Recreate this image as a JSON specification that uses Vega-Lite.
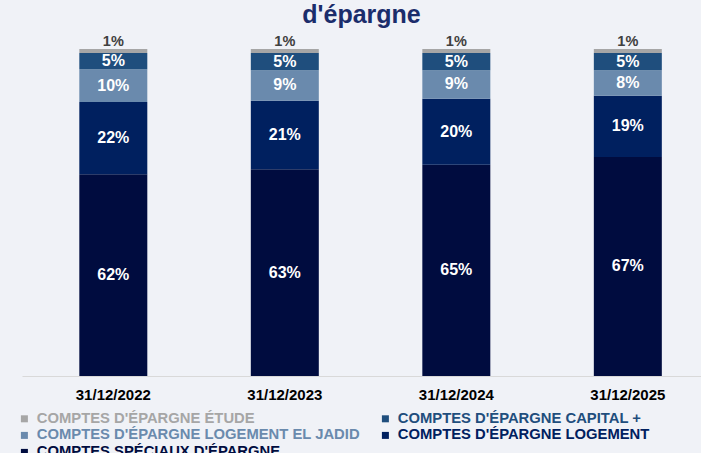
{
  "$schema": "https://vega.github.io/schema/vega-lite/v6.json",
  "width": 679,
  "height": 327,
  "autosize": {"type": "none"},
  "padding": {"left": 22, "top": 49, "right": 0, "bottom": 77},
  "background": "#f0f2f7",
  "title": {"text": "d'épargne", "fontSize": 25, "font": "Liberation Sans", "fontWeight": "bold", "color": "#1b2d6b", "anchor": "middle", "offset": 6},
  "config": {"view": {"stroke": null}, "font": "Liberation Sans"},
  "data": {"values": [
    {"date": "31/12/2022", "series": "COMPTES SPÉCIAUX D'ÉPARGNE", "order": 1, "value": 0.617},
    {"date": "31/12/2022", "series": "COMPTES D'ÉPARGNE LOGEMENT", "order": 2, "value": 0.221},
    {"date": "31/12/2022", "series": "COMPTES D'ÉPARGNE LOGEMENT EL JADID", "order": 3, "value": 0.100},
    {"date": "31/12/2022", "series": "COMPTES D'ÉPARGNE CAPITAL +", "order": 4, "value": 0.050},
    {"date": "31/12/2022", "series": "COMPTES D'ÉPARGNE ÉTUDE", "order": 5, "value": 0.012},
    {"date": "31/12/2023", "series": "COMPTES SPÉCIAUX D'ÉPARGNE", "order": 1, "value": 0.632},
    {"date": "31/12/2023", "series": "COMPTES D'ÉPARGNE LOGEMENT", "order": 2, "value": 0.210},
    {"date": "31/12/2023", "series": "COMPTES D'ÉPARGNE LOGEMENT EL JADID", "order": 3, "value": 0.093},
    {"date": "31/12/2023", "series": "COMPTES D'ÉPARGNE CAPITAL +", "order": 4, "value": 0.053},
    {"date": "31/12/2023", "series": "COMPTES D'ÉPARGNE ÉTUDE", "order": 5, "value": 0.012},
    {"date": "31/12/2024", "series": "COMPTES SPÉCIAUX D'ÉPARGNE", "order": 1, "value": 0.646},
    {"date": "31/12/2024", "series": "COMPTES D'ÉPARGNE LOGEMENT", "order": 2, "value": 0.202},
    {"date": "31/12/2024", "series": "COMPTES D'ÉPARGNE LOGEMENT EL JADID", "order": 3, "value": 0.087},
    {"date": "31/12/2024", "series": "COMPTES D'ÉPARGNE CAPITAL +", "order": 4, "value": 0.053},
    {"date": "31/12/2024", "series": "COMPTES D'ÉPARGNE ÉTUDE", "order": 5, "value": 0.012},
    {"date": "31/12/2025", "series": "COMPTES SPÉCIAUX D'ÉPARGNE", "order": 1, "value": 0.670},
    {"date": "31/12/2025", "series": "COMPTES D'ÉPARGNE LOGEMENT", "order": 2, "value": 0.187},
    {"date": "31/12/2025", "series": "COMPTES D'ÉPARGNE LOGEMENT EL JADID", "order": 3, "value": 0.078},
    {"date": "31/12/2025", "series": "COMPTES D'ÉPARGNE CAPITAL +", "order": 4, "value": 0.053},
    {"date": "31/12/2025", "series": "COMPTES D'ÉPARGNE ÉTUDE", "order": 5, "value": 0.012}
  ]},
  "encoding": {
    "x": {
      "field": "date", "type": "nominal", "sort": null,
      "scale": {"paddingInner": 0.6036, "paddingOuter": 0.2813, "align": 0.594},
      "axis": {"title": null, "labelAngle": 0, "labelFontSize": 15, "labelFontWeight": "bold", "labelColor": "#000000", "labelPadding": 11, "ticks": false, "domainColor": "#d9d9d9", "domainWidth": 1, "grid": false, "labelFont": "Liberation Sans"}
    }
  },
  "layer": [
    {
      "mark": {"type": "bar"},
      "encoding": {
        "y": {"field": "value", "type": "quantitative", "stack": "zero", "scale": {"domain": [0, 1], "nice": false, "zero": true}, "axis": null},
        "order": {"field": "order", "type": "quantitative"},
        "color": {
          "field": "series", "type": "nominal",
          "scale": {
            "domain": ["COMPTES D'ÉPARGNE ÉTUDE", "COMPTES D'ÉPARGNE CAPITAL +", "COMPTES D'ÉPARGNE LOGEMENT EL JADID", "COMPTES D'ÉPARGNE LOGEMENT", "COMPTES SPÉCIAUX D'ÉPARGNE"],
            "range": ["#a6a6a6", "#1f4e7d", "#6a8aad", "#00205f", "#000c3f"]
          },
          "legend": {
            "title": null, "orient": "none", "legendX": -5, "legendY": 362, "columns": 2, "direction": "horizontal",
            "symbolType": "square", "symbolSize": 49, "symbolStrokeWidth": 0,
            "labelFont": "Liberation Sans", "labelFontSize": 14.8, "labelFontWeight": "bold", "labelLimit": 0,
            "labelOffset": 5, "columnPadding": 18, "rowPadding": 1, "padding": 0,
            "encode": {"labels": {"update": {"fill": {"signal": "scale('color', datum.value)"}}}}
          }
        }
      }
    },
    {
      "transform": [
        {"stack": "value", "groupby": ["date"], "sort": [{"field": "order", "order": "ascending"}], "as": ["v0", "v1"]},
        {"filter": "datum.series !== \"COMPTES D'ÉPARGNE ÉTUDE\""},
        {"calculate": "(datum.v0 + datum.v1) / 2", "as": "labelPos"}
      ],
      "mark": {"type": "text", "color": "#ffffff", "fontSize": 16, "fontWeight": "bold", "font": "Liberation Sans", "baseline": "middle"},
      "encoding": {
        "y": {"field": "labelPos", "type": "quantitative"},
        "text": {"field": "value", "type": "quantitative", "format": ".0%"}
      }
    },
    {
      "transform": [{"filter": "datum.series === \"COMPTES D'ÉPARGNE ÉTUDE\""}],
      "mark": {"type": "text", "color": "#404040", "fontSize": 14.5, "fontWeight": "bold", "font": "Liberation Sans", "baseline": "middle", "dy": -7},
      "encoding": {
        "y": {"datum": 1, "type": "quantitative"},
        "text": {"field": "value", "type": "quantitative", "format": ".0%"}
      }
    }
  ]
}
